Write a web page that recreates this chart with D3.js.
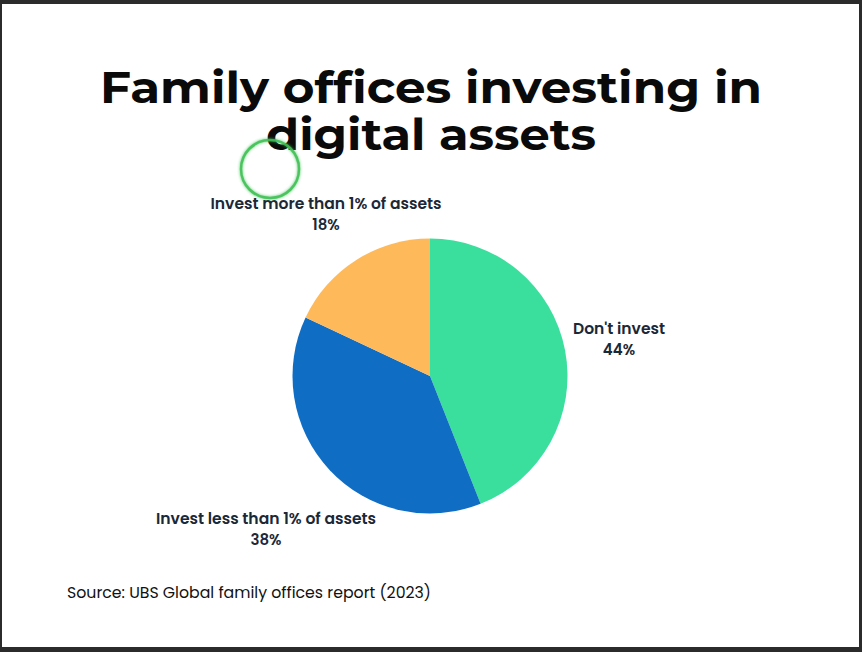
<!DOCTYPE html>
<html>
<head>
<meta charset="utf-8">
<script src="https://cdn.jsdelivr.net/npm/d3@7"></script>
<style>
  html, body { margin: 0; padding: 0; background: #2b2b2b; }
  svg { display: block; }
</style>
</head>
<body>
<div id="chart"></div>
<script>
// slice data, clockwise from 12 o'clock
var categories = ['Don\'t invest', 'Invest less than 1% of assets', 'Invest more than 1% of assets'];
var shares = [44, 38, 18];
var colors = ['#3bdf9d', '#0f6ec4', '#feb95b'];

// title lines and source note
var titleLines = ['Family offices investing in', 'digital assets'];
var sourceText = 'Source: UBS Global family offices report (2023)';

var width = 862, height = 652;
var cx = 430, cy = 376, radius = 137.5;

var svg = d3.select('#chart').append('svg')
    .attr('width', width)
    .attr('height', height);

// white page inside the dark frame
svg.append('rect')
    .attr('x', 2).attr('y', 4)
    .attr('width', 857).attr('height', 643)
    .attr('fill', '#ffffff');

// title, one text block with a line per tspan
var titleWidths = [662, 330];
svg.append('text')
    .attr('class', 'title')
    .attr('text-anchor', 'middle')
    .attr('font-family', 'Montserrat, Inter, "DejaVu Sans", sans-serif')
    .attr('font-weight', 700)
    .attr('font-size', 43)
    .attr('fill', '#0a0a0a')
    .selectAll('tspan')
    .data(titleLines)
    .enter().append('tspan')
        .attr('x', 431)
        .attr('y', function(d, i){ return 103 + i * 46.5; })
        .attr('textLength', function(d, i){ return titleWidths[i]; })
        .attr('lengthAdjust', 'spacingAndGlyphs')
        .text(function(d){ return d; });

// pie
var pie = d3.pie().sort(null).value(function(d){ return d; });
var arc = d3.arc().innerRadius(0).outerRadius(radius);

var g = svg.append('g').attr('transform', 'translate(' + cx + ',' + cy + ')');

g.selectAll('path')
    .data(pie(shares))
    .enter().append('path')
        .attr('d', arc)
        .attr('fill', function(d, i){ return colors[i]; });

// labels: two lines each (name, percent)
var labelPos = [
    {x: 619, y: 334, w: 92},
    {x: 266, y: 524, w: 220},
    {x: 326, y: 209, w: 231}
];

var labels = svg.selectAll('g.label')
    .data(categories)
    .enter().append('g')
        .attr('class', 'label')
        .attr('font-family', 'Poppins, Inter, "Noto Sans", sans-serif')
        .attr('font-weight', 600)
        .attr('font-size', 15)
        .attr('fill', '#1b2838')
        .attr('text-anchor', 'middle');

labels.append('text')
    .attr('x', function(d, i){ return labelPos[i].x; })
    .attr('y', function(d, i){ return labelPos[i].y; })
    .attr('textLength', function(d, i){ return labelPos[i].w; })
    .attr('lengthAdjust', 'spacingAndGlyphs')
    .text(function(d){ return d; });

labels.append('text')
    .attr('x', function(d, i){ return labelPos[i].x; })
    .attr('y', function(d, i){ return labelPos[i].y + 21; })
    .text(function(d, i){ return shares[i] + '%'; });

// source note
svg.append('text')
    .attr('x', 67)
    .attr('y', 598)
    .attr('font-family', 'Poppins, Inter, "Noto Sans", sans-serif')
    .attr('font-size', 15.5)
    .attr('fill', '#111111')
    .attr('textLength', 364)
    .attr('lengthAdjust', 'spacingAndGlyphs')
    .text(sourceText);

// cursor highlight ring seen in the screenshot
var defs = svg.append('defs');
var blur = defs.append('filter').attr('id', 'glow');
blur.append('feGaussianBlur').attr('stdDeviation', 1.5).attr('result', 'b');
var merge = blur.append('feMerge');
merge.append('feMergeNode').attr('in', 'b');
merge.append('feMergeNode').attr('in', 'SourceGraphic');

svg.append('circle')
    .attr('cx', 270).attr('cy', 169).attr('r', 29)
    .attr('fill', 'none')
    .attr('stroke', '#3cbf52')
    .attr('stroke-opacity', 0.85)
    .attr('stroke-width', 2.5)
    .attr('filter', 'url(#glow)');
</script>
</body>
</html>
